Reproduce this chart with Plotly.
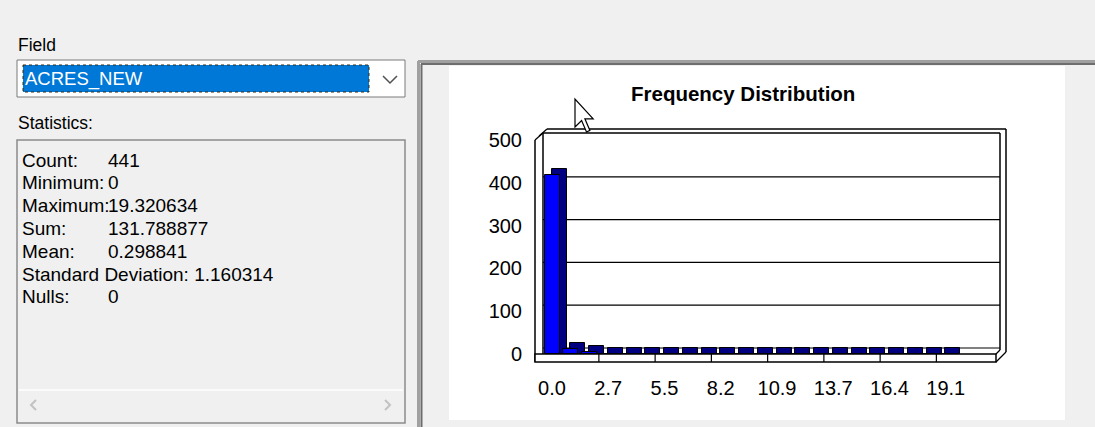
import plotly.graph_objects as go

# ---------------- data ----------------
bin_index = list(range(22))
bin_counts = [418, 11, 5, 1, 1, 0, 1, 0, 0, 1, 0, 0, 1, 0, 0, 0, 1, 0, 0, 0, 0, 1]
tick_bins = [0, 3, 6, 9, 12, 15, 18, 21]
tick_labels = ["0.0", "2.7", "5.5", "8.2", "10.9", "13.7", "16.4", "19.1"]
y_ticks = [0, 100, 200, 300, 400, 500]

field_name = "ACRES_NEW"
stat_labels = ["Count:", "Minimum:", "Maximum:", "Sum:", "Mean:", "Standard Deviation:", "Nulls:"]
stat_values = ["441", "0", "19.320634", "131.788877", "0.298841", "1.160314", "0"]

# ---------------- geometry helpers (pixels -> paper) ----------------
W, H = 1095, 427
def X(px):
    return px / W
def Y(py):
    return 1 - py / H

FONT = "Liberation Sans, Arial, sans-serif"
PITCH = 18.75          # px per bin
X0PX = 552             # pixel of bin 0 centre
Y0PX, Y500PX = 354, 140
PXU = (Y0PX - Y500PX) / 500.0   # px per count unit
DX = 7 / PITCH         # depth offset in bin units
DY = 6 / PXU           # depth offset in count units
BW = 0.8

fig = go.Figure()

# back (side + top) faces of the 3D bars
fig.add_trace(go.Bar(
    x=bin_index, y=[c + DY for c in bin_counts], base=0,
    width=BW, offset=-BW / 2 + DX,
    marker=dict(color="#000080", line=dict(color="#000000", width=1)),
    hoverinfo="skip", showlegend=False,
))
# front faces
fig.add_trace(go.Bar(
    x=bin_index, y=bin_counts,
    width=BW, offset=-BW / 2,
    marker=dict(color="#0000ff", line=dict(color="#000000", width=1)),
    showlegend=False,
))

shapes = []
def line(x0, y0, x1, y1, color="#000000", width=1, layer="above", dash=None):
    d = dict(type="line", xref="paper", yref="paper", x0=X(x0), y0=Y(y0), x1=X(x1), y1=Y(y1),
             line=dict(color=color, width=width), layer=layer)
    if dash:
        d["line"]["dash"] = dash
    shapes.append(d)

def rect(x0, y0, x1, y1, fill, color=None, width=0, layer="below", dash=None):
    d = dict(type="rect", xref="paper", yref="paper", x0=X(x0), y0=Y(y0), x1=X(x1), y1=Y(y1),
             fillcolor=fill, line=dict(color=color or "rgba(0,0,0,0)", width=width), layer=layer)
    if dash:
        d["line"]["dash"] = dash
    shapes.append(d)

# ---------- left panel ----------
# combo box
rect(17, 60, 405, 97, "#ffffff", "#7a7a7a", 1)
rect(23, 65, 369, 92, "#0078d7")
rect(23, 65, 369, 92, "rgba(0,0,0,0)", "#3a2a10", 1, layer="above", dash="dot")
shapes.append(dict(type="path", xref="paper", yref="paper",
                   path=f"M {X(383)} {Y(76)} L {X(390)} {Y(83)} L {X(397)} {Y(76)}",
                   line=dict(color="#505050", width=1.5), layer="above"))
# statistics box
rect(17, 140, 405, 423, "#f0f0f0", "#8a8a8a", 1.5)
line(19, 390, 403, 390, "#ffffff", 1.5, layer="below")
shapes.append(dict(type="path", xref="paper", yref="paper",
                   path=f"M {X(36)} {Y(400)} L {X(31)} {Y(405)} L {X(36)} {Y(410)}",
                   line=dict(color="#c2c2c2", width=2), layer="above"))
shapes.append(dict(type="path", xref="paper", yref="paper",
                   path=f"M {X(385)} {Y(400)} L {X(390)} {Y(405)} L {X(385)} {Y(410)}",
                   line=dict(color="#c2c2c2", width=2), layer="above"))

# ---------- right panel ----------
rect(418, 61, 1100, 430, "#f0f0f0")
line(418.5, 61, 418.5, 430, "#a0a0a0", 3, layer="below")
line(418, 61.5, 1100, 61.5, "#a0a0a0", 3, layer="below")
line(421.5, 64, 421.5, 430, "#6d6d6d", 2, layer="below")
line(421, 64, 1100, 64, "#6d6d6d", 2, layer="below")
rect(449, 66, 1065, 420, "#ffffff")

# back wall grid lines (offset by depth)
for v in y_ticks[1:-1]:
    shapes.append(dict(type="line", xref="paper", yref="y", x0=X(543), x1=X(1000),
                       y0=v + DY, y1=v + DY, line=dict(color="#000000", width=1.2), layer="below"))
shapes.append(dict(type="line", xref="paper", yref="y", x0=X(543), x1=X(1000),
                   y0=DY, y1=DY, line=dict(color="#000000", width=1), layer="below"))

# 3D frame
line(543, 133, 1000, 133, width=1.5)
line(547, 129, 1006, 129, width=1.5)
line(1000, 133, 1000, 350, width=1.5)
line(1006, 129, 1006, 352, width=1.5)
line(535, 140, 535, 362, width=1.5)
line(543, 133, 543, 354, width=1.5)
line(535, 140, 543, 133, width=1.2)
line(539, 136, 547, 129, width=1.2)
# floor slab
rect(535, 354, 996, 362, "#ffffff", "#000000", 1.5, layer="above")
line(996, 362, 1006, 352, width=1.2)
line(996, 354, 1000, 350, width=1.2)
for b in range(7):
    xv = 2.5 + 3 * b
    shapes.append(dict(type="line", xref="x", yref="paper", x0=xv, x1=xv,
                       y0=Y(362), y1=Y(354), line=dict(color="#000000", width=1.2), layer="above"))

# mouse cursor
cur = [(0, 0), (0, 28), (6.6, 21.5), (11.5, 33), (14.9, 31.4), (9.9, 19.8), (18.2, 19.8)]
cx, cy = 575, 99
path = "M " + " L ".join(f"{X(cx + a)} {Y(cy + b)}" for a, b in cur) + " Z"
shapes.append(dict(type="path", xref="paper", yref="paper", path=path,
                   fillcolor="#ffffff", line=dict(color="#000000", width=1.2), layer="above"))

# ---------------- annotations ----------------
ann = []
def text(t, px, py, size, color="#000000", anchor="left", bold=False):
    ann.append(dict(text=f"<b>{t}</b>" if bold else t, x=X(px), y=Y(py), xref="paper", yref="paper",
                    xanchor=anchor, yanchor="middle", showarrow=False,
                    font=dict(family=FONT, size=size, color=color)))

text("Field", 16, 45, 17.5)
text(field_name, 23, 79, 18.5, color="#ffffff")
text("Statistics:", 16, 123, 17.5)
line_y = 160
for lab, val in zip(stat_labels, stat_values):
    if len(lab) > 10:
        text(f"{lab} {val}", 20, line_y, 19)
    else:
        text(lab, 20, line_y, 19)
        text(val, 106, line_y, 19)
    line_y += 22.8
text("Frequency Distribution", 743, 93, 20.5, anchor="center", bold=True)

fig.update_layout(
    width=W, height=H, autosize=False,
    margin=dict(l=0, r=0, t=0, b=0, pad=0),
    paper_bgcolor="#f0f0f0",
    plot_bgcolor="rgba(0,0,0,0)",
    barmode="overlay",
    bargap=0,
    shapes=shapes,
    annotations=ann,
    xaxis=dict(domain=[X(535), X(996)],
               range=[(535 - X0PX) / PITCH, (996 - X0PX) / PITCH],
               tickvals=tick_bins, ticktext=tick_labels,
               showgrid=False, zeroline=False, showline=False, ticks="",
               ticklabelstandoff=20, automargin=False,
               tickfont=dict(family=FONT, size=20, color="#000000"),
               fixedrange=True),
    yaxis=dict(domain=[Y(Y0PX), Y(Y500PX)], range=[0, 500],
               tickvals=y_ticks,
               showgrid=False, zeroline=False, showline=False, ticks="",
               ticklabelstandoff=12, automargin=False,
               tickfont=dict(family=FONT, size=20, color="#000000"),
               fixedrange=True),
)

fig.write_html(
    "out.html",
    config={"displayModeBar": False, "responsive": False},
    post_script="document.body.style.margin='0';document.body.style.overflow='hidden';",
)
